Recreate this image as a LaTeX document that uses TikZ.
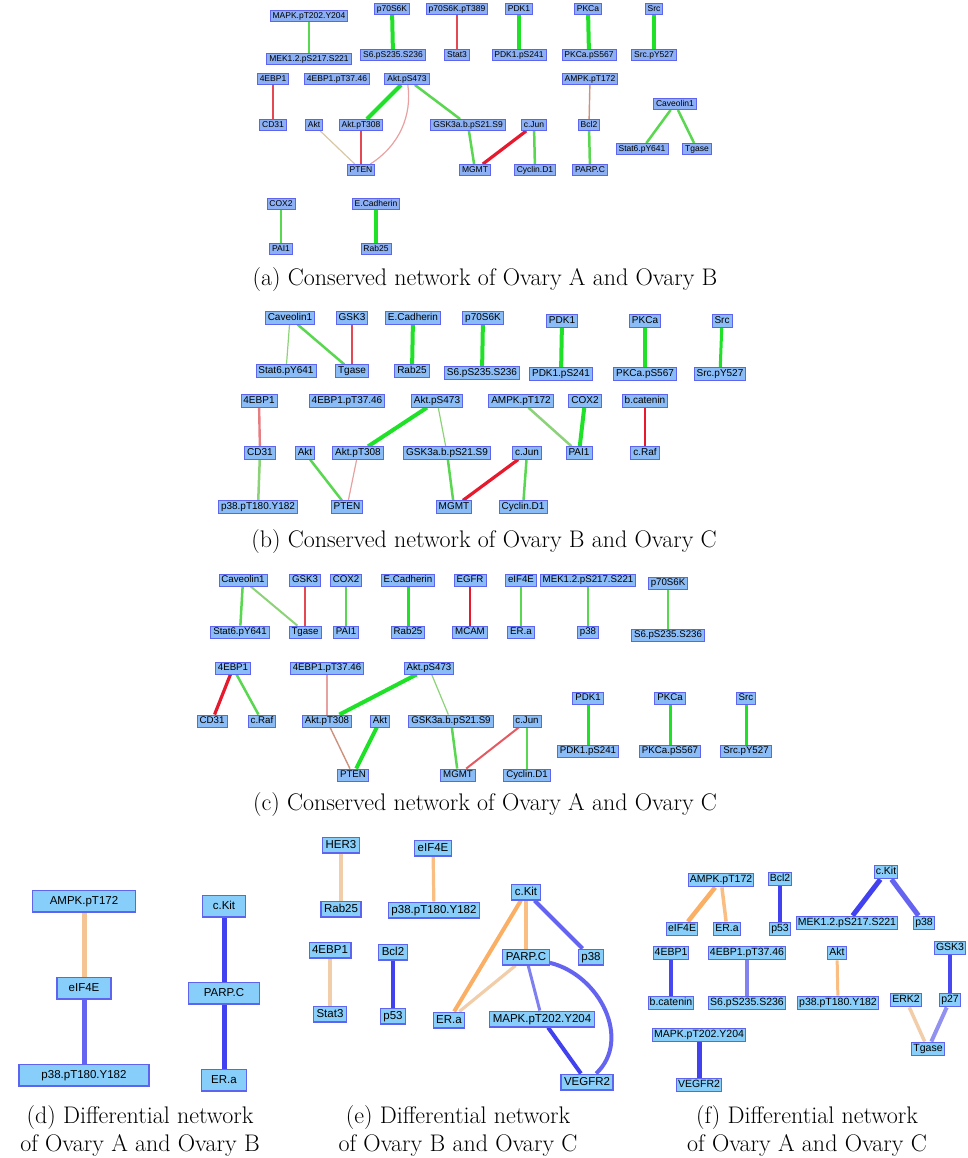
\documentclass[tikz,border=0pt]{standalone}
\usepackage{fontspec}
\newfontfamily\genefont{Liberation Sans}
\usetikzlibrary{backgrounds}

\definecolor{filla}{RGB}{140,176,243}
\definecolor{fillabc}{RGB}{138,188,248}
\definecolor{filldef}{RGB}{135,206,250}
\definecolor{boxline}{RGB}{92,100,240}
\definecolor{grstrong}{RGB}{30,225,40}
\definecolor{grmid}{RGB}{90,215,80}
\definecolor{grlight}{RGB}{140,210,120}
\definecolor{rdstrong}{RGB}{230,25,45}
\definecolor{rdmid}{RGB}{228,72,82}
\definecolor{rdpale}{RGB}{232,160,160}
\definecolor{tanpale}{RGB}{215,200,165}
\definecolor{brpale}{RGB}{205,145,125}
\definecolor{blstrong}{RGB}{65,65,240}
\definecolor{blmid}{RGB}{100,100,240}
\definecolor{blpale}{RGB}{145,145,240}
\definecolor{orstrong}{RGB}{250,175,100}
\definecolor{ormid}{RGB}{250,190,130}
\definecolor{orpale}{RGB}{242,205,170}

\begin{document}
\begin{tikzpicture}[
			x=1pt, y=-1pt,
			prot/.style={draw=boxline, fill=fillabc, line width=0.8pt, inner ysep=1.5pt, inner xsep=2.5pt},
			prota/.style={prot, fill=filla, font=\genefont\fontsize{8.5}{9}\selectfont, text height=6.3pt, text depth=1.8pt},
			protb/.style={prot, font=\genefont\fontsize{10}{11}\selectfont, text height=7.3pt, text depth=2.1pt},
			protc/.style={prot, font=\genefont\fontsize{9.7}{10}\selectfont, text height=7.1pt, text depth=2pt},
			protd/.style={prot, fill=filldef, line width=1.2pt, inner ysep=5.5pt, font=\genefont\fontsize{11.5}{12}\selectfont, text height=8.4pt, text depth=2.4pt},
			prote/.style={prot, fill=filldef, line width=1.2pt, inner ysep=2.5pt, inner xsep=3pt, font=\genefont\fontsize{11.5}{12}\selectfont, text height=8.4pt, text depth=2.4pt},
			protf/.style={prot, fill=filldef, line width=1pt, inner ysep=2pt, inner xsep=1.5pt, font=\genefont\fontsize{10.5}{11}\selectfont, text height=7.6pt, text depth=2.2pt},
			capt/.style={anchor=base, font=\fontsize{24}{28}\selectfont},
			gthick/.style={line width=4pt, draw=grstrong},
			gmid/.style={line width=2.5pt, draw=grmid},
			gthin/.style={line width=1.2pt, draw=grlight},
			rthick/.style={line width=3.2pt, draw=rdstrong},
			rmid/.style={line width=2.4pt, draw=rdmid},
			rthin/.style={line width=1.2pt, draw=rdpale},
			tanthin/.style={line width=1.2pt, draw=tanpale},
			brthin/.style={line width=1.4pt, draw=brpale},
			bthick/.style={line width=5pt, draw=blstrong},
			bmid/.style={line width=4pt, draw=blmid},
			blight/.style={line width=3.5pt, draw=blpale},
			othick/.style={line width=4.5pt, draw=orstrong},
			omid/.style={line width=3.2pt, draw=ormid},
			opeach/.style={line width=3.2pt, draw=orpale}
		]
		\useasboundingbox (0,0) rectangle (967,1158);

		% (a)
		\node[prota] (aMAPK) at (309,16) {MAPK.pT202.Y204};
		\node[prota] (aMEK) at (309,59) {MEK1.2.pS217.S221};
		\node[prota] (aP70) at (392,9) {p70S6K};
		\node[prota] (aS6) at (393,55) {S6.pS235.S236};
		\node[prota] (aP70T) at (457,9) {p70S6K.pT389};
		\node[prota] (aStat3) at (457,55) {Stat3};
		\node[prota] (aPDK1) at (519,9) {PDK1};
		\node[prota] (aPDK1S) at (519,55) {PDK1.pS241};
		\node[prota] (aPKCa) at (588,9) {PKCa};
		\node[prota] (aPKCaS) at (589,55) {PKCa.pS567};
		\node[prota] (aSrc) at (654,9) {Src};
		\node[prota] (aSrcY) at (654,55) {Src.pY527};
		\node[prota] (a4EBP1) at (273,79) {4EBP1};
		\node[prota] (aCD31) at (273,125) {CD31};
		\node[prota] (a4EBPT) at (337,79) {4EBP1.pT37.46};
		\node[prota] (aAktS) at (407,79) {Akt.pS473};
		\node[prota] (aAkt) at (314,125) {Akt};
		\node[prota] (aAktT) at (361,125) {Akt.pT308};
		\node[prota] (aPTEN) at (361,170) {PTEN};
		\node[prota] (aGSK) at (468,125) {GSK3a.b.pS21.S9};
		\node[prota] (acJun) at (534,125) {c.Jun};
		\node[prota] (aMGMT) at (475,170) {MGMT};
		\node[prota] (aCyc) at (535,170) {Cyclin.D1};
		\node[prota] (aAMPK) at (590,79) {AMPK.pT172};
		\node[prota] (aBcl2) at (589,125) {Bcl2};
		\node[prota] (aPARP) at (590,170) {PARP.C};
		\node[prota] (aCav) at (675,104) {Caveolin1};
		\node[prota] (aStat6) at (642,149) {Stat6.pY641};
		\node[prota] (aTgase) at (697,149) {Tgase};
		\node[prota] (aCOX2) at (281,204) {COX2};
		\node[prota] (aPAI1) at (281,249) {PAI1};
		\node[prota] (aECad) at (376,204) {E.Cadherin};
		\node[prota] (aRab25) at (376,249) {Rab25};
		\node[capt] (capa) at (485,285) {(a) Conserved network of Ovary A and Ovary B};

		% (b)
		\node[protb] (bCav) at (290,318) {Caveolin1};
		\node[protb] (bGSK3) at (352,318) {GSK3};
		\node[protb] (bECad) at (413,318) {E.Cadherin};
		\node[protb] (bP70) at (483,318) {p70S6K};
		\node[protb] (bPDK1) at (562,321) {PDK1};
		\node[protb] (bPKCa) at (645,321) {PKCa};
		\node[protb] (bSrc) at (722,321) {Src};
		\node[protb] (bStat6) at (286,371) {Stat6.pY641};
		\node[protb] (bTgase) at (352,371) {Tgase};
		\node[protb] (bRab25) at (412,371) {Rab25};
		\node[protb] (bS6) at (482,373) {S6.pS235.S236};
		\node[protb] (bPDK1S) at (561,374) {PDK1.pS241};
		\node[protb] (bPKCaS) at (645,374) {PKCa.pS567};
		\node[protb] (bSrcY) at (720,374) {Src.pY527};
		\node[protb] (b4EBP1) at (259,401) {4EBP1};
		\node[protb] (b4EBPT) at (347,401) {4EBP1.pT37.46};
		\node[protb] (bAktS) at (437,401) {Akt.pS473};
		\node[protb] (bAMPK) at (521,401) {AMPK.pT172};
		\node[protb] (bCOX2) at (585,401) {COX2};
		\node[protb] (bbcat) at (645,401) {b.catenin};
		\node[protb] (bCD31) at (260,453) {CD31};
		\node[protb] (bAkt) at (305,453) {Akt};
		\node[protb] (bAktT) at (358,453) {Akt.pT308};
		\node[protb] (bGSK) at (447,453) {GSK3a.b.pS21.S9};
		\node[protb] (bcJun) at (527,453) {c.Jun};
		\node[protb] (bPAI1) at (579,453) {PAI1};
		\node[protb] (bcRaf) at (645,453) {c.Raf};
		\node[protb] (bP38T) at (258,507) {p38.pT180.Y182};
		\node[protb] (bPTEN) at (347,507) {PTEN};
		\node[protb] (bMGMT) at (454,507) {MGMT};
		\node[protb] (bCyc) at (523,507) {Cyclin.D1};
		\node[capt] (capb) at (484,547) {(b) Conserved network of Ovary B and Ovary C};

		% (c)
		\node[protc] (cCav) at (243,580) {Caveolin1};
		\node[protc] (cGSK3) at (305,580) {GSK3};
		\node[protc] (cCOX2) at (346,580) {COX2};
		\node[protc] (cECad) at (408,580) {E.Cadherin};
		\node[protc] (cEGFR) at (470,580) {EGFR};
		\node[protc] (ceIF4E) at (521,580) {eIF4E};
		\node[protc] (cMEK) at (588,580) {MEK1.2.pS217.S221};
		\node[protc] (cP70) at (668,583) {p70S6K};
		\node[protc] (cStat6) at (240,632) {Stat6.pY641};
		\node[protc] (cTgase) at (305,632) {Tgase};
		\node[protc] (cPAI1) at (346,632) {PAI1};
		\node[protc] (cRab25) at (408,632) {Rab25};
		\node[protc] (cMCAM) at (470,632) {MCAM};
		\node[protc] (cERa) at (521,632) {ER.a};
		\node[protc] (cP38) at (588,632) {p38};
		\node[protc] (cS6) at (668,635) {S6.pS235.S236};
		\node[protc] (c4EBP1) at (233,668) {4EBP1};
		\node[protc] (c4EBPT) at (327,668) {4EBP1.pT37.46};
		\node[protc] (cAktS) at (429,668) {Akt.pS473};
		\node[protc] (cCD31) at (212,721) {CD31};
		\node[protc] (ccRaf) at (262,721) {c.Raf};
		\node[protc] (cAktT) at (327,721) {Akt.pT308};
		\node[protc] (cAkt) at (380,721) {Akt};
		\node[protc] (cGSK) at (451,721) {GSK3a.b.pS21.S9};
		\node[protc] (ccJun) at (527,721) {c.Jun};
		\node[protc] (cPTEN) at (353,775) {PTEN};
		\node[protc] (cMGMT) at (458,775) {MGMT};
		\node[protc] (cCyc) at (527,775) {Cyclin.D1};
		\node[protc] (cPDK1) at (588,698) {PDK1};
		\node[protc] (cPDK1S) at (588,751) {PDK1.pS241};
		\node[protc] (cPKCa) at (670,698) {PKCa};
		\node[protc] (cPKCaS) at (670,751) {PKCa.pS567};
		\node[protc] (cSrc) at (746,698) {Src};
		\node[protc] (cSrcY) at (746,751) {Src.pY527};
		\node[capt] (capc) at (485,810) {(c) Conserved network of Ovary A and Ovary C};

		% (d)
		\node[protd, minimum width=103pt] (dAMPK) at (84,901) {AMPK.pT172};
		\node[protd, minimum width=54pt] (deIF4E) at (84,988) {eIF4E};
		\node[protd, minimum width=130pt] (dP38T) at (84,1075) {p38.pT180.Y182};
		\node[protd, minimum width=43pt] (dcKit) at (224,906) {c.Kit};
		\node[protd, minimum width=71pt] (dPARP) at (224,993) {PARP.C};
		\node[protd, minimum width=45pt] (dERa) at (224,1080) {ER.a};
		\node[capt] (capd) at (140,1123) {(d) Differential network};
		\node[capt] (capdd) at (140,1151) {of Ovary A and Ovary B};

		% (e)
		\node[prote] (eHER3) at (341,845) {HER3};
		\node[prote] (eRab25) at (341,909) {Rab25};
		\node[prote] (eeIF4E) at (433,848) {eIF4E};
		\node[prote] (eP38T) at (434,910) {p38.pT180.Y182};
		\node[prote] (e4EBP1) at (330,950) {4EBP1};
		\node[prote] (eStat3) at (330,1014) {Stat3};
		\node[prote] (eBcl2) at (393,952) {Bcl2};
		\node[prote] (eP53) at (393,1016) {p53};
		\node[prote] (ecKit) at (526,892) {c.Kit};
		\node[prote] (ePARP) at (526,957) {PARP.C};
		\node[prote] (eP38) at (591,957) {p38};
		\node[prote] (eERa) at (449,1020) {ER.a};
		\node[prote] (eMAPK) at (542,1019) {MAPK.pT202.Y204};
		\node[prote] (eVEGFR2) at (587,1082) {VEGFR2};
		\node[capt] (cape) at (458,1123) {(e) Differential network};
		\node[capt] (capee) at (458,1151) {of Ovary B and Ovary C};

		% (f)
		\node[protf] (fAMPK) at (721,880) {AMPK.pT172};
		\node[protf] (fBcl2) at (780,879) {Bcl2};
		\node[protf] (fcKit) at (886,872) {c.Kit};
		\node[protf] (feIF4E) at (682,929) {eIF4E};
		\node[protf] (fERa) at (727,929) {ER.a};
		\node[protf] (fP53) at (780,929) {p53};
		\node[protf] (fMEK) at (847,923) {MEK1.2.pS217.S221};
		\node[protf] (fP38) at (924,923) {p38};
		\node[protf] (f4EBP1) at (671,953) {4EBP1};
		\node[protf] (f4EBPT) at (747,953) {4EBP1.pT37.46};
		\node[protf] (fAkt) at (837,953) {Akt};
		\node[protf] (fGSK3) at (950,948) {GSK3};
		\node[protf] (fbcat) at (671,1003) {b.catenin};
		\node[protf] (fS6) at (747,1003) {S6.pS235.S236};
		\node[protf] (fP38T) at (838,1003) {p38.pT180.Y182};
		\node[protf] (fERK2) at (906,1000) {ERK2};
		\node[protf] (fP27) at (950,1000) {p27};
		\node[protf] (fTgase) at (928,1049) {Tgase};
		\node[protf] (fMAPK) at (699,1035) {MAPK.pT202.Y204};
		\node[protf] (fVEGFR2) at (699,1085) {VEGFR2};
		\node[capt] (capf) at (807,1123) {(f) Differential network};
		\node[capt] (capff) at (807,1151) {of Ovary A and Ovary C};

		\begin{pgfonlayer}{background}
			% (a)
			\draw[gmid] (aMAPK) -- (aMEK);
			\draw[gthick] (aP70) -- (aS6);
			\draw[rmid] (aP70T) -- (aStat3);
			\draw[gthick] (aPDK1) -- (aPDK1S);
			\draw[gthick] (aPKCa) -- (aPKCaS);
			\draw[gthick] (aSrc) -- (aSrcY);
			\draw[rmid] (a4EBP1) -- (aCD31);
			\draw[gthick] (aAktS) -- (aAktT);
			\draw[rthin] (aAktS) .. controls (412,115) and (400,145) .. (aPTEN);
			\draw[gmid] (aAktS) -- (aGSK);
			\draw[tanthin] (aAkt) -- (aPTEN);
			\draw[rmid] (aAktT) -- (aPTEN);
			\draw[gmid] (aGSK) -- (aMGMT);
			\draw[rthick] (acJun) -- (aMGMT);
			\draw[gmid] (acJun) -- (aCyc);
			\draw[brthin] (aAMPK) -- (aBcl2);
			\draw[gmid] (aBcl2) -- (aPARP);
			\draw[gmid] (aCav) -- (aStat6);
			\draw[gmid] (aCav) -- (aTgase);
			\draw[gmid] (aCOX2) -- (aPAI1);
			\draw[gthick] (aECad) -- (aRab25);
			% (b)
			\draw[gthin] (bCav) -- (bStat6);
			\draw[gmid] (bCav) -- (bTgase);
			\draw[rthin, draw=rdmid] (bGSK3) -- (bTgase);
			\draw[gthick] (bECad) -- (bRab25);
			\draw[gthick] (bP70) -- (bS6);
			\draw[gthick] (bPDK1) -- (bPDK1S);
			\draw[gthick] (bPKCa) -- (bPKCaS);
			\draw[gthick, line width=3pt] (bSrc) -- (bSrcY);
			\draw[rmid, draw=rdpale!60!rdmid] (b4EBP1) -- (bCD31);
			\draw[gmid, draw=grlight] (bCD31) -- (bP38T);
			\draw[gthick] (bAktS) -- (bAktT);
			\draw[gthin] (bAktS) -- (bGSK);
			\draw[gmid] (bGSK) -- (bMGMT);
			\draw[gmid, draw=grlight] (bAMPK) -- (bPAI1);
			\draw[gthick] (bCOX2) -- (bPAI1);
			\draw[rmid, draw=rdstrong] (bbcat) -- (bcRaf);
			\draw[gmid] (bAkt) -- (bPTEN);
			\draw[rthin] (bAktT) -- (bPTEN);
			\draw[rthick] (bcJun) -- (bMGMT);
			\draw[gmid] (bcJun) -- (bCyc);
			% (c)
			\draw[gmid] (cCav) -- (cStat6);
			\draw[gmid, line width=2pt, draw=grlight] (cCav) -- (cTgase);
			\draw[rmid] (cGSK3) -- (cTgase);
			\draw[gmid, line width=2pt] (cCOX2) -- (cPAI1);
			\draw[gthick, line width=3pt] (cECad) -- (cRab25);
			\draw[rmid, draw=rdstrong] (cEGFR) -- (cMCAM);
			\draw[gmid] (ceIF4E) -- (cERa);
			\draw[gmid] (cMEK) -- (cP38);
			\draw[gmid] (cP70) -- (cS6);
			\draw[rthick] (c4EBP1) -- (cCD31);
			\draw[gmid] (c4EBP1) -- (ccRaf);
			\draw[rthin] (c4EBPT) -- (cAktT);
			\draw[gthick] (cAktS) -- (cAktT);
			\draw[gthin] (cAktS) -- (cGSK);
			\draw[gmid] (cGSK) -- (cMGMT);
			\draw[brthin] (cAktT) -- (cPTEN);
			\draw[gthick] (cAkt) -- (cPTEN);
			\draw[rmid, line width=2pt, draw=rdmid!80!rdpale] (ccJun) -- (cMGMT);
			\draw[gmid] (ccJun) -- (cCyc);
			\draw[gthick, line width=3pt] (cPDK1) -- (cPDK1S);
			\draw[gthick, line width=3pt] (cPKCa) -- (cPKCaS);
			\draw[gthick, line width=3pt] (cSrc) -- (cSrcY);
			% (d)
			\draw[othick, line width=5pt, draw=orpale!70!orstrong] (dAMPK) -- (deIF4E);
			\draw[bthick, draw=blmid] (deIF4E) -- (dP38T);
			\draw[bthick] (dcKit) -- (dPARP);
			\draw[bthick] (dPARP) -- (dERa);
			% (e)
			\draw[opeach] (eHER3) -- (eRab25);
			\draw[omid] (eeIF4E) -- (eP38T);
			\draw[opeach] (e4EBP1) -- (eStat3);
			\draw[bmid, draw=blstrong] (eBcl2) -- (eP53);
			\draw[othick, line width=4pt] (ecKit) -- (eERa);
			\draw[omid] (ecKit) -- (ePARP);
			\draw[bmid] (ecKit) -- (eP38);
			\draw[opeach] (ePARP) -- (eERa);
			\draw[blight, line width=3pt, draw=blpale!60!blmid] (ePARP) -- (eMAPK);
			\draw[bmid] (ePARP) .. controls (600,975) and (632,1040) .. (eVEGFR2);
			\draw[bmid, draw=blstrong] (eMAPK) -- (eVEGFR2);
			% (f)
			\draw[othick] (fAMPK) -- (feIF4E);
			\draw[omid, line width=3.5pt] (fAMPK) -- (fERa);
			\draw[bmid, draw=blstrong] (fBcl2) -- (fP53);
			\draw[bthick] (fcKit) -- (fMEK);
			\draw[bthick, draw=blmid] (fcKit) -- (fP38);
			\draw[bmid, draw=blstrong!80!blmid] (f4EBP1) -- (fbcat);
			\draw[bmid, draw=blpale!70!blmid] (f4EBPT) -- (fS6);
			\draw[omid, line width=3pt] (fAkt) -- (fP38T);
			\draw[bmid, draw=blstrong!80!blmid] (fGSK3) -- (fP27);
			\draw[opeach, line width=3.5pt] (fERK2) -- (fTgase);
			\draw[blight, line width=4pt] (fP27) -- (fTgase);
			\draw[bthick] (fMAPK) -- (fVEGFR2);
		\end{pgfonlayer}
	\end{tikzpicture}
\end{document}
